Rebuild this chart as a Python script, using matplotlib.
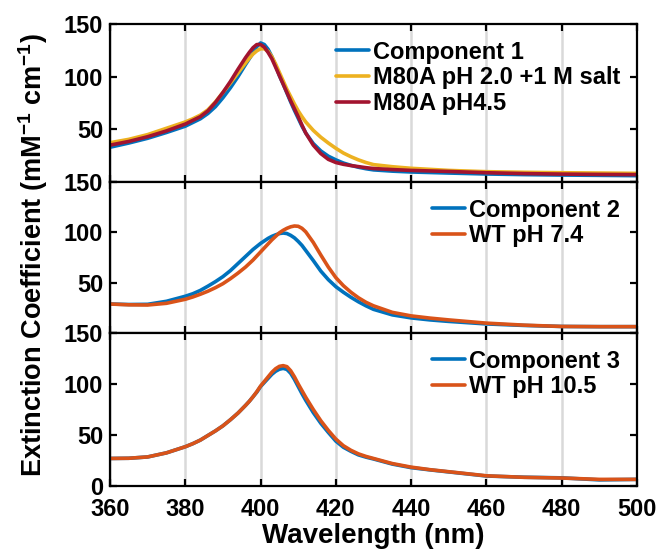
import matplotlib
matplotlib.use("Agg")
import matplotlib.pyplot as plt

plt.rcParams['font.family'] = ['Liberation Sans', 'DejaVu Sans']
plt.rcParams['font.weight'] = 'bold'
plt.rcParams['mathtext.fontset'] = 'custom'
plt.rcParams['mathtext.rm'] = 'Liberation Sans:bold'
plt.rcParams['mathtext.bf'] = 'Liberation Sans:bold'
plt.rcParams['mathtext.default'] = 'bf'

# wavelength grid (nm), 1 nm steps around the Soret peaks
wl = [360, 365, 370, 375,
      380, 382, 384, 386, 388, 390, 392, 394,
      396, 397, 398, 399, 400, 401, 402, 403, 404, 405, 406, 407, 408, 409, 410, 411, 412,
      414, 416, 418, 420, 422, 424, 426, 428, 430,
      435, 440, 445, 450, 460, 470, 480, 490, 500]

# panel 1
comp1 = [33, 37, 41.5, 47,
         53, 56.5, 60, 65, 71.5, 80, 89.5, 100,
         111.5, 117, 122.5, 128.5, 132, 130.5, 126, 119, 110.5, 101, 93, 84.5, 76, 68, 60.5, 53, 46.5,
         36.5, 29.5, 24.5, 21, 18, 15.8, 14, 12.6, 11.5,
         10.3, 9.5, 9, 8.5, 7.6, 7, 6.6, 6.3, 6]
m80a_ph2 = [37.3, 40.5, 45, 51,
            57, 60, 63.5, 68.5, 76, 85, 94, 103.5,
            113, 117.5, 121.5, 124.5, 126.5, 126.5, 124, 119, 112, 104, 96, 88, 81, 74, 67.5, 62, 57,
            49, 42.5, 37, 32, 27.5, 24, 21, 18.5, 16.5,
            14.5, 13, 12, 11, 9.8, 9.2, 8.8, 8.5, 8.2]
m80a_ph45 = [35, 38.5, 43, 48.5,
             55, 58.5, 62, 67.5, 75.5, 85, 95.5, 107,
             118, 123, 127.5, 130.5, 130.5, 128, 123, 117, 109, 101, 93, 85, 77, 69.5, 62, 54, 46.5,
             35, 27, 21.5, 18.5, 16.8, 15.6, 14.6, 13.6, 12.8,
             11.8, 11, 10.5, 10, 8.8, 8, 7.5, 7.2, 7]

# panel 2
comp2 = [28.8, 28.3, 28.5, 31.5,
         36.5, 39, 42.3, 46.5, 51, 56, 62, 69,
         76, 79.5, 83, 86, 89, 91.5, 94, 96, 97.5, 98.8, 99.3, 98.8, 97, 94.5, 91, 87, 82,
         72, 61.5, 53, 46, 40.5, 35.5, 31, 27, 23.5,
         18, 15, 13, 11.5, 9, 7.5, 6.5, 6.3, 6.3]
wt_ph74 = [28.8, 28, 27.8, 29.5,
           33.5, 35.8, 38.5, 41.5, 45, 49, 54, 59.5,
           65.5, 69, 72.5, 76.5, 80.5, 84.5, 88.5, 92.5, 96, 99.5, 102, 104, 105.5, 106.3, 106, 104, 100.5,
           90, 77.5, 65.5, 55, 47, 40.5, 35, 30.5, 27,
           20.5, 17, 14.8, 13, 9.8, 7.8, 6.5, 6.3, 6.3]

# panel 3
comp3 = [27, 27.2, 28.5, 32.5,
         38.5, 41.5, 45, 49.5, 54, 59, 65, 71.5,
         79, 83, 87.5, 92, 97.5, 101.5, 105.5, 109.5, 112.5, 114.5, 115.3, 114.3, 110.5, 104.5, 97.5, 90.5, 84,
         72, 61.5, 52.5, 44, 38, 34, 30.5, 28.3, 26.5,
         21.5, 18, 15.8, 13.8, 9.8, 8.6, 8, 6, 6.5]
wt_ph105 = [27, 27.2, 28.5, 32.5,
            38.5, 41.5, 45, 49.5, 54, 59, 65, 71.5,
            79, 83, 87.5, 92.5, 98, 102.5, 107, 111.5, 115, 117.3, 118, 117, 113, 107, 100, 93.5, 87,
            75, 64, 54.5, 46, 39.5, 35, 31.5, 29, 27,
            22, 18.5, 16, 14, 10, 8.5, 7.8, 6.5, 6.5]

xticks = [360, 380, 400, 420, 440, 460, 480, 500]
yticks = [0, 50, 100, 150]

BLUE = '#0072BD'
ORANGE = '#D95319'
YELLOW = '#EDB120'
RED = '#A2142F'

W, H = 658, 552
fig = plt.figure(figsize=(W / 100, H / 100), dpi=100)

# panel edges in pixels (top, bottom)
edges = [(24, 182), (182, 333), (333, 486)]
left_px, right_px = 110, 637
axes = []
for top, bot in edges:
    ax = fig.add_axes([left_px / W, 1 - bot / H, (right_px - left_px) / W, (bot - top) / H])
    axes.append(ax)

panels = [
    [(comp1, BLUE, 'Component 1'), (m80a_ph2, YELLOW, 'M80A pH 2.0 +1 M salt'),
     (m80a_ph45, RED, 'M80A pH4.5')],
    [(comp2, BLUE, 'Component 2'), (wt_ph74, ORANGE, 'WT pH 7.4')],
    [(comp3, BLUE, 'Component 3'), (wt_ph105, ORANGE, 'WT pH 10.5')],
]

for i, (ax, series) in enumerate(zip(axes, panels)):
    for vals, col, lab in series:
        ax.plot(wl, vals, color=col, lw=2.6, label=lab, solid_capstyle='round',
                solid_joinstyle='round')
    ax.set_xlim(360, 500)
    ax.set_ylim(0, 150)
    ax.set_xticks(xticks)
    ax.set_yticks(yticks)
    ax.grid(axis='x', color='#d9d9d9', lw=1.8)
    ax.set_axisbelow(True)
    for sp in ax.spines.values():
        sp.set_linewidth(1.6)
    ax.tick_params(direction='in', length=5, width=1.6, top=True, right=True,
                   labelsize=17)
    ax.tick_params(axis='y', pad=5)
    ax.tick_params(axis='x', pad=9)
    if i < 2:
        ax.set_xticklabels([])
        ax.set_yticklabels(['', '50', '100', '150'])
    else:
        ax.set_yticklabels(['0', '50', '100', '150'])
    for t in ax.get_xticklabels() + ax.get_yticklabels():
        t.set_fontweight('bold')
    leg = ax.legend(loc='upper right', bbox_to_anchor=(1.0, 1.0), frameon=False,
                    fontsize=17, handlelength=1.4, handletextpad=0.17,
                    labelspacing=0.12, borderaxespad=0.3)
    for t in leg.get_texts():
        t.set_fontweight('bold')

axes[2].set_xlabel('Wavelength (nm)', fontsize=20, fontweight='bold', labelpad=1)
fig.text(33 / W, 1 - 255 / H, r'Extinction Coefficient (mM$^{-1}$ cm$^{-1}$)',
         rotation=90, ha='center', va='center', fontsize=19.5, fontweight='bold')

fig.savefig('out.png', dpi=100)
